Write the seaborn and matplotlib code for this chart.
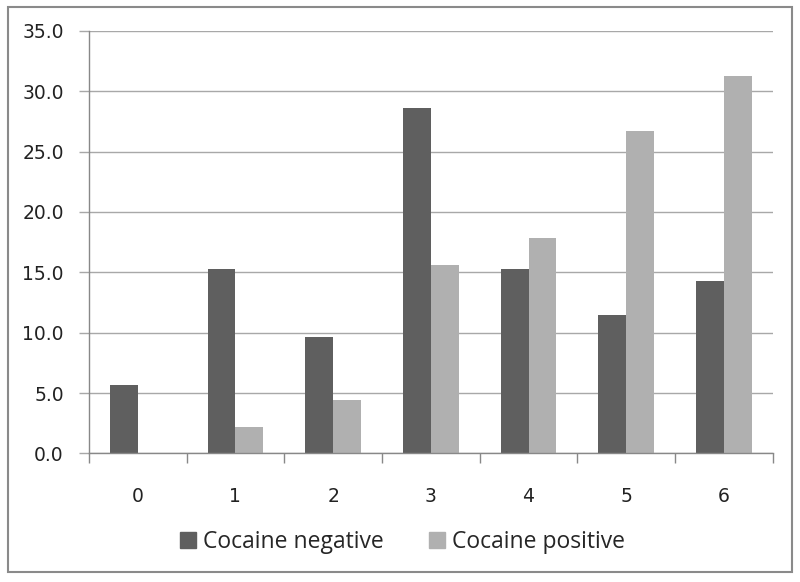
import matplotlib.pyplot as plt
import matplotlib.patches as mpatches
import numpy as np
import pandas as pd
import seaborn as sns

categories = ["0", "1", "2", "3", "4", "5", "6"]
cocaine_negative = [5.7, 15.3, 9.6, 28.6, 15.3, 11.5, 14.3]
cocaine_positive = [0.0, 2.2, 4.4, 15.6, 17.8, 26.7, 31.3]
series = ["Cocaine negative", "Cocaine positive"]
colors = ["#5f5f5f", "#b0b0b0"]

df = pd.DataFrame({
    "cat": categories * 2,
    "value": cocaine_negative + cocaine_positive,
    "group": [series[0]] * len(categories) + [series[1]] * len(categories),
})

sns.set_theme(style="white")
plt.rcParams['font.family'] = ['DejaVu Sans']

fig = plt.figure(figsize=(8, 5.82), dpi=100)
ax = fig.add_axes([0.111, 0.221, 0.855, 0.726])

sns.barplot(data=df, x="cat", y="value", hue="group", order=categories,
            hue_order=series, palette=colors, width=0.57, saturation=1,
            linewidth=0, legend=False, ax=ax)

grid_c = "#a8a8a8"
ax.set_ylim(0, 35)
ax.set_yticks(np.arange(0, 35.1, 5))
ax.set_yticklabels(["%.1f" % v for v in np.arange(0, 35.1, 5)])
ax.yaxis.grid(True, color=grid_c, linewidth=1)
ax.set_axisbelow(True)
ax.set_xlim(-0.5, len(categories) - 0.5)
ax.set_xticks(np.arange(-0.5, len(categories)), minor=True)
ax.tick_params(axis="x", which="major", bottom=True, length=0, pad=24, labelsize=13.5, colors="#222222")
ax.tick_params(axis="x", which="minor", bottom=True, length=7, width=1, color="#888888", direction="out")
ax.tick_params(axis="y", left=True, length=7, width=1, color=grid_c, pad=11, labelsize=13.5, labelcolor="#222222")
ax.set_xlabel("")
ax.set_ylabel("")
for s in ["top", "right"]:
    ax.spines[s].set_visible(False)
for s in ["left", "bottom"]:
    ax.spines[s].set_color("#888888")
    ax.spines[s].set_linewidth(1)

handles = [mpatches.Patch(color=c, label=l) for c, l in zip(colors, series)]
fig.legend(handles=handles, loc="center", bbox_to_anchor=(0.503, 0.068), ncol=2,
           frameon=False, prop={"family": "Open Sans", "size": 16.5},
           handlelength=0.7, handleheight=0.7, handletextpad=0.3, columnspacing=2.0)

# outer frame around the chart
fig.patches.append(mpatches.Rectangle((0.01, 0.017), 0.98, 0.971, transform=fig.transFigure,
                                      fill=False, edgecolor="#8a8a8a", linewidth=1.5))

fig.savefig("out.png", dpi=100)
